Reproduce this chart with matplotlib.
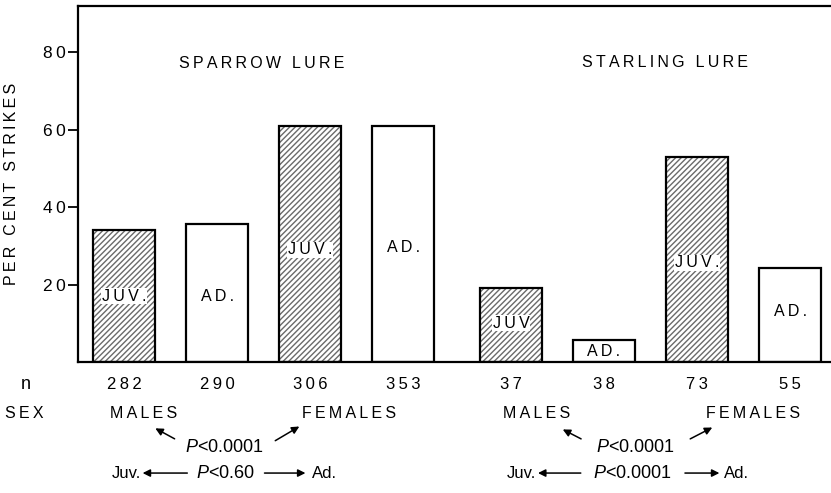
import matplotlib
matplotlib.use('Agg')
import matplotlib.pyplot as plt

plt.rcParams['font.family'] = ['Liberation Sans', 'DejaVu Sans']
plt.rcParams['mathtext.fontset'] = 'custom'
plt.rcParams['mathtext.it'] = 'Liberation Sans:italic'

# dados
grupos = ['SPARROW LURE', 'STARLING LURE']
idades = ['JUV.', 'AD.', 'JUV.', 'AD.', 'JUV', 'AD.', 'JUV.', 'AD.']
percentuais = [34.0, 35.7, 61.1, 61.1, 19.0, 5.7, 53.1, 24.4]
n_amostra = ['282', '290', '306', '353', '37', '38', '73', '55']
p_sexo = ['0.0001', '0.0001']
p_idade = ['0.60', '0.0001']

# layout
posicoes = [0, 1, 2, 3, 4.16, 5.16, 6.16, 7.16]
y_rotulos = [17, 17, 29, 29.5, 10, 2.6, 25.6, 13]
largura = 0.66


def esp(s):
    # espaçamento entre letras (tipografia da figura original)
    return '\u2009'.join(s)


fig = plt.figure(figsize=(8.31, 4.93), dpi=100)
ax = fig.add_axes([78/831, 1 - 362/493, 1 - 78/831, 356/493])

for x, v, idade in zip(posicoes, percentuais, idades):
    if idade.startswith('JUV'):
        ax.bar(x, v, width=largura, color='white', edgecolor='#6a6a6a',
               hatch='//////', linewidth=0)
    ax.bar(x, v, width=largura, fill=False, edgecolor='black', linewidth=1.6)

for x, yl, idade in zip(posicoes, y_rotulos, idades):
    ax.text(x, yl, esp(idade), ha='center', va='center', fontsize=11.5,
            bbox=dict(facecolor='white', edgecolor='none', pad=0.5))

ax.set_xlim(-0.495, 7.60)
ax.set_ylim(0, 92)
ax.set_yticks([20, 40, 60, 80])
ax.set_yticklabels([esp(str(t)) for t in [20, 40, 60, 80]])
ax.tick_params(axis='y', direction='out', length=7, width=1.3, labelsize=12.5, pad=2)
ax.set_xticks([])
ax.spines['right'].set_visible(False)
for s in ['left', 'bottom', 'top']:
    ax.spines[s].set_linewidth(1.6)

ax.text(1.485, 77.2, esp(grupos[0]), ha='center', va='center', fontsize=11.5)
ax.text(5.82, 77.5, esp(grupos[1]), ha='center', va='center', fontsize=11.5)

fig.text(12/831, 1 - 184/493, esp('PER CENT STRIKES'), rotation=90,
         ha='center', va='center', fontsize=11.5)

# linha n
ax.text(-1.06, -5.7, 'n', ha='center', va='center', fontsize=13, clip_on=False)
for x, n in zip(posicoes, n_amostra):
    ax.text(x, -5.7, esp(n), ha='center', va='center', fontsize=12, clip_on=False)

# linha sexo
ax.text(-1.07, -13.2, esp('SEX'), ha='center', va='center', fontsize=11.5, clip_on=False)
seta = dict(arrowstyle='-|>', color='black', lw=1.1, mutation_scale=11)
config = [
    # machos, femeas, p, seta esq, seta dir, juv, seta juv, p idade, seta ad, ad
    (0.215, 2.42, 1.075, ((0.57, -20.2), (0.31, -16.8)), ((1.60, -20.7), (1.91, -16.3)),
     0.03, (0.71, 0.17), 1.085, (1.48, 1.98), 2.15),
    (4.44, 6.76, 5.50, ((4.94, -20.2), (4.69, -17.1)), ((6.06, -20.2), (6.35, -16.6)),
     4.27, (4.94, 4.42), 5.46, (6.00, 6.43), 6.58),
]
for i, (xm, xf, xp, se, sd, xj, sj, xpi, sa, xa) in enumerate(config):
    ax.text(xm, -13.2, esp('MALES'), ha='center', va='center', fontsize=11.5, clip_on=False)
    ax.text(xf, -13.2, esp('FEMALES'), ha='center', va='center', fontsize=11.5, clip_on=False)
    ax.text(xp, -22.2, r'$P$<' + p_sexo[i], ha='center', va='center', fontsize=13, clip_on=False)
    ax.annotate('', xy=se[1], xytext=se[0], arrowprops=seta, annotation_clip=False)
    ax.annotate('', xy=sd[1], xytext=sd[0], arrowprops=seta, annotation_clip=False)
    ax.text(xj, -28.7, 'Juv.', ha='center', va='center', fontsize=12, clip_on=False)
    ax.annotate('', xy=(sj[1], -28.7), xytext=(sj[0], -28.7), arrowprops=seta, annotation_clip=False)
    ax.text(xpi, -28.7, r'$P$<' + p_idade[i], ha='center', va='center', fontsize=13, clip_on=False)
    ax.annotate('', xy=(sa[1], -28.7), xytext=(sa[0], -28.7), arrowprops=seta, annotation_clip=False)
    ax.text(xa, -28.7, 'Ad.', ha='center', va='center', fontsize=12, clip_on=False)

fig.savefig('out.png', dpi=100)
